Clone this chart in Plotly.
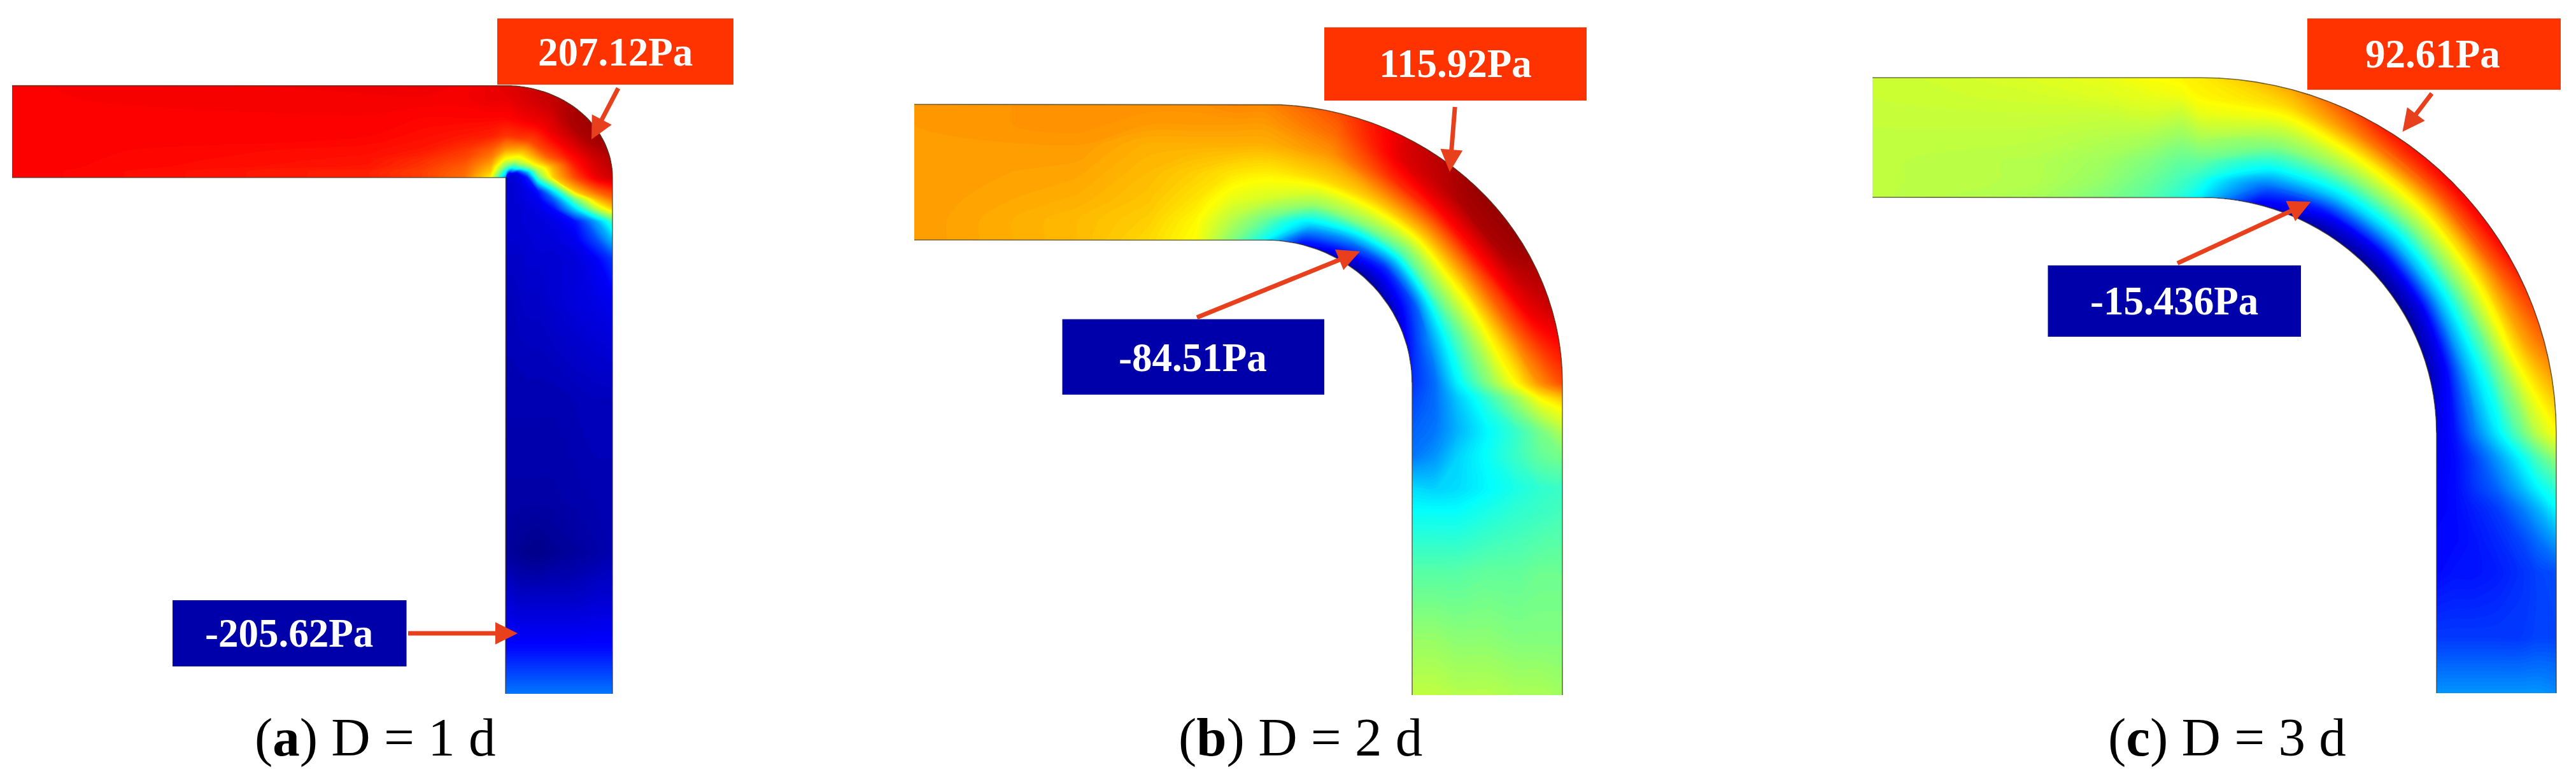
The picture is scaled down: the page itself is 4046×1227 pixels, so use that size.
import numpy as np
import plotly.graph_objects as go

# ---------- data (fraction of each panel's pressure range) ----------
across_a = [0, .06, .12, .2, .3, .45, .65, .85, 1]
across_bc = [0, .15, .3, .5, .7, .85, 1]

x_stations_a = [19, 580, 663, 730, 771]
bend_deg_a = [0, 15, 30, 45, 60, 75, 90]
y_stations_a = [300, 313, 329, 348, 376, 407, 470, 626, 782, 869, 939, 1017, 1090]
field_a = [
    [.875, .875, .875, .875, .875, .875, .875, .875, .875],
    [.84, .84, .85, .855, .86, .87, .875, .88, .885],
    [.81, .81, .82, .83, .85, .86, .87, .88, .89],
    [.76, .77, .78, .80, .82, .85, .87, .88, .88],
    [.62, .67, .70, .74, .78, .84, .87, .89, .89],
    [.28, .38, .50, .62, .72, .82, .87, .89, .90],
    [.12, .28, .46, .60, .70, .82, .88, .91, .92],
    [.10, .16, .38, .56, .67, .80, .88, .92, .94],
    [.10, .12, .34, .53, .66, .80, .89, .95, .96],
    [.09, .10, .16, .44, .63, .78, .88, .95, .97],
    [.08, .09, .10, .27, .54, .70, .85, .92, .95],
    [.08, .08, .10, .15, .45, .67, .80, .89, .92],
    [.08, .08, .09, .10, .14, .36, .68, .78, .82],
    [.08, .08, .09, .10, .11, .22, .49, .69, .76],
    [.08, .08, .08, .09, .10, .13, .33, .55, .66],
    [.08, .08, .08, .09, .09, .10, .14, .29, .44],
    [.08, .08, .08, .08, .09, .09, .11, .20, .31],
    [.07, .07, .07, .08, .08, .08, .09, .12, .18],
    [.06, .06, .065, .07, .07, .08, .09, .10, .11],
    [.05, .05, .05, .05, .05, .05, .055, .06, .06],
    [.04, .04, .04, .04, .04, .04, .045, .05, .05],
    [.03, .025, .02, .015, .01, .02, .03, .04, .05],
    [.08, .08, .07, .07, .07, .07, .07, .08, .08],
    [.13, .13, .13, .13, .13, .13, .13, .13, .13],
    [.24, .24, .24, .24, .24, .24, .24, .24, .24],
]

x_stations_b = [1436, 1693, 1803, 1877, 1936]
bend_deg_b = [0, 15, 30, 45, 60, 75, 90]
y_stations_b = [626, 641, 677, 717, 767, 806, 900, 1002, 1092]
field_b = [
    [.72, .72, .72, .72, .72, .72, .72],
    [.69, .69, .70, .71, .72, .73, .73],
    [.66, .67, .68, .69, .70, .72, .73],
    [.62, .63, .65, .67, .70, .72, .73],
    [.50, .55, .60, .65, .70, .72, .74],
    [.38, .48, .58, .64, .70, .72, .74],
    [.12, .33, .52, .66, .73, .77, .80],
    [.05, .25, .50, .68, .83, .90, .92],
    [.03, .17, .45, .68, .87, .95, .97],
    [.06, .20, .47, .67, .86, .95, .97],
    [.13, .26, .42, .60, .78, .88, .92],
    [.17, .23, .36, .50, .63, .73, .80],
    [.19, .23, .32, .42, .53, .625, .68],
    [.20, .23, .31, .40, .50, .58, .63],
    [.22, .24, .30, .37, .43, .49, .55],
    [.24, .27, .33, .38, .43, .47, .49],
    [.34, .33, .34, .37, .40, .42, .43],
    [.38, .38, .38, .40, .42, .43, .44],
    [.46, .46, .46, .47, .47, .48, .48],
    [.52, .52, .51, .51, .50, .50, .50],
    [.56, .56, .55, .55, .54, .54, .53],
]

x_stations_c = [2941, 3192, 3302, 3375, 3426]
bend_deg_c = [0, 15, 30, 45, 60, 75, 90]
y_stations_c = [720, 767, 800, 850, 900, 1002, 1089]
field_c = [
    [.56, .56, .56, .56, .57, .57, .57],
    [.54, .55, .55, .56, .57, .58, .59],
    [.50, .52, .53, .55, .57, .59, .60],
    [.46, .48, .50, .54, .58, .60, .62],
    [.41, .44, .47, .52, .57, .61, .63],
    [.36, .41, .47, .54, .60, .63, .64],
    [.10, .22, .36, .50, .59, .66, .71],
    [.03, .14, .32, .50, .64, .76, .84],
    [.02, .11, .30, .50, .66, .79, .88],
    [.02, .11, .30, .50, .66, .78, .86],
    [.05, .13, .29, .45, .62, .71, .77],
    [.10, .14, .23, .35, .47, .56, .62],
    [.11, .13, .18, .27, .37, .45, .52],
    [.12, .13, .17, .22, .30, .37, .42],
    [.12, .13, .15, .18, .24, .30, .37],
    [.13, .13, .14, .16, .19, .23, .28],
    [.13, .14, .14, .15, .17, .19, .20],
    [.18, .18, .18, .18, .18, .19, .19],
    [.27, .27, .27, .27, .27, .27, .26],
]

high_labels = ["207.12Pa", "115.92Pa", "92.61Pa"]
low_labels = ["-205.62Pa", "-84.51Pa", "-15.436Pa"]
captions = ["(<b>a</b>) D = 1 d", "(<b>b</b>) D = 2 d", "(<b>c</b>) D = 3 d"]

# ---------- layout of the three pipes, in picture pixels ----------
panels = [
    dict(id="a", top=134.6, low=279, vl=794, vr=962, cx=794, cy=279, irx=.6, iry=.6,
         orx=168, ory=144.4, across=across_a, xs=x_stations_a, deg=bend_deg_a,
         ys=y_stations_a, field=field_a,
         hi_box=(781, 29, 1152, 133), hi_txt=(966, 82), hi_arrow=(974, 133, 929, 219),
         lo_box=(271, 943, 638.5, 1047), lo_txt=(454, 995), lo_arrow=(638, 995, 813, 995),
         cap_x=589),
    dict(id="b", top=164, low=377, vl=2218, vr=2454, cx=1987, cy=602, irx=231, iry=225,
         orx=467, ory=438, across=across_bc, xs=x_stations_b, deg=bend_deg_b,
         ys=y_stations_b, field=field_b,
         hi_box=(2080, 43, 2492, 158), hi_txt=(2286, 100), hi_arrow=(2286, 158, 2277, 270),
         lo_box=(1668.5, 501.6, 2080, 620), lo_txt=(1873, 562), lo_arrow=(1877, 500, 2136, 395),
         cap_x=2042),
    dict(id="c", top=122, low=310, vl=3827, vr=4015, cx=3456, cy=681, irx=371, iry=371,
         orx=559, ory=559, across=across_bc, xs=x_stations_c, deg=bend_deg_c,
         ys=y_stations_c, field=field_c,
         hi_box=(3624, 29, 4022, 141), hi_txt=(3821, 85), hi_arrow=(3822.5, 143, 3773.5, 207),
         lo_box=(3216.5, 417, 3614, 529), lo_txt=(3415, 473), lo_arrow=(3417, 415, 3629.5, 317),
         cap_x=3498),
]

JET = [[0, "#00007F"], [.125, "#0000FF"], [.375, "#00FFFF"], [.5, "#7FFF7F"],
       [.625, "#FFFF00"], [.875, "#FF0000"], [1, "#7F0000"]]
RED, BLUE, ARROW = "#FF3300", "#0000AA", "#E8401C"
FONT = "Liberation Serif"
SUB = 6

fig = go.Figure()


def wall_point(p, kind, v, t):
    if kind == "h":
        return v, p["low"] + (p["top"] - p["low"]) * t
    if kind == "v":
        return p["vl"] + (p["vr"] - p["vl"]) * t, v
    s, c = np.sin(np.radians(v)), np.cos(np.radians(v))
    rx = p["irx"] + (p["orx"] - p["irx"]) * t
    ry = p["iry"] + (p["ory"] - p["iry"]) * t
    return p["cx"] + rx * s, p["cy"] - ry * c


for p in panels:
    stations = [("h", v) for v in p["xs"]] + [("b", v) for v in p["deg"]] + [("v", v) for v in p["ys"]]
    n = len(stations)
    a_coarse = list(range(n))
    a_fine, X, Y = [], [], []
    b = p["across"]
    for i in range(n - 1):
        (k0, v0), (k1, v1) = stations[i], stations[i + 1]
        for j in range(SUB):
            f = j / SUB
            a_fine.append(i + f)
            col_x, col_y = [], []
            for t in b:
                if k0 == k1:
                    x, y = wall_point(p, k0, v0 + (v1 - v0) * f, t)
                else:
                    x0, y0 = wall_point(p, k0, v0, t)
                    x1, y1 = wall_point(p, k1, v1, t)
                    x, y = x0 + (x1 - x0) * f, y0 + (y1 - y0) * f
                col_x.append(float(x))
                col_y.append(float(y))
            X.append(col_x)
            Y.append(col_y)
    a_fine.append(n - 1)
    k, v = stations[-1]
    X.append([float(wall_point(p, k, v, t)[0]) for t in b])
    Y.append([float(wall_point(p, k, v, t)[1]) for t in b])
    X, Y = np.array(X).T, np.array(Y).T

    axis_style = dict(smoothing=0, showgrid=False, showline=False, showticklabels="none",
                      startline=False, endline=False, minorgridcount=0)
    fig.add_trace(go.Carpet(
        carpet=p["id"], a=a_fine, b=b, x=X.tolist(), y=Y.tolist(),
        aaxis=axis_style, baxis=axis_style,
    ))
    fig.add_trace(go.Contourcarpet(
        carpet=p["id"], a=a_coarse, b=b, z=np.array(p["field"]).T.tolist(),
        autocontour=False, contours=dict(start=0, end=1, size=.006, coloring="fill", showlines=False),
        line=dict(width=0, smoothing=.8), colorscale=JET, zmin=0, zmax=1, showscale=False,
    ))
    # pipe walls
    for t in (0, 1):
        xy = [wall_point(p, k, v, t) for k, v in
              [("h", p["xs"][0])] + [("b", d) for d in np.arange(0, 90.5, 3)] + [("v", p["ys"][-1])]]
        fig.add_trace(go.Scatter(x=[float(q[0]) for q in xy], y=[float(q[1]) for q in xy], mode="lines",
                                 line=dict(color="rgba(70,60,40,.75)", width=1.6), hoverinfo="skip"))

annotations, shapes = [], []
for i, p in enumerate(panels):
    for box, col in ((p["hi_box"], RED), (p["lo_box"], BLUE)):
        shapes.append(dict(type="rect", x0=box[0], y0=box[1], x1=box[2], y1=box[3],
                           fillcolor=col, line_width=0, layer="above"))
    for (tx, ty), s in ((p["hi_txt"], high_labels[i]), (p["lo_txt"], low_labels[i])):
        annotations.append(dict(x=tx, y=ty, text=f"<b>{s}</b>", showarrow=False,
                                font=dict(family=FONT, size=63, color="white")))
    for arr in (p["hi_arrow"], p["lo_arrow"]):
        annotations.append(dict(x=arr[2], y=arr[3], ax=arr[0], ay=arr[1], axref="x", ayref="y",
                                xref="x", yref="y", text=" ", showarrow=True, arrowhead=2,
                                arrowsize=1, arrowwidth=7, arrowcolor=ARROW))
    annotations.append(dict(x=p["cap_x"], y=1158, text=captions[i], showarrow=False,
                            font=dict(family=FONT, size=85, color="black")))

fig.update_layout(
    width=4046, height=1227, margin=dict(l=0, r=0, t=0, b=0),
    paper_bgcolor="white", plot_bgcolor="white", showlegend=False,
    xaxis=dict(range=[0, 4046], visible=False, fixedrange=True),
    yaxis=dict(range=[1227, 0], visible=False, fixedrange=True),
    annotations=annotations, shapes=shapes,
)
fig.write_html("out.html", config=dict(displayModeBar=False),
               post_script="document.body.style.margin='0';")
